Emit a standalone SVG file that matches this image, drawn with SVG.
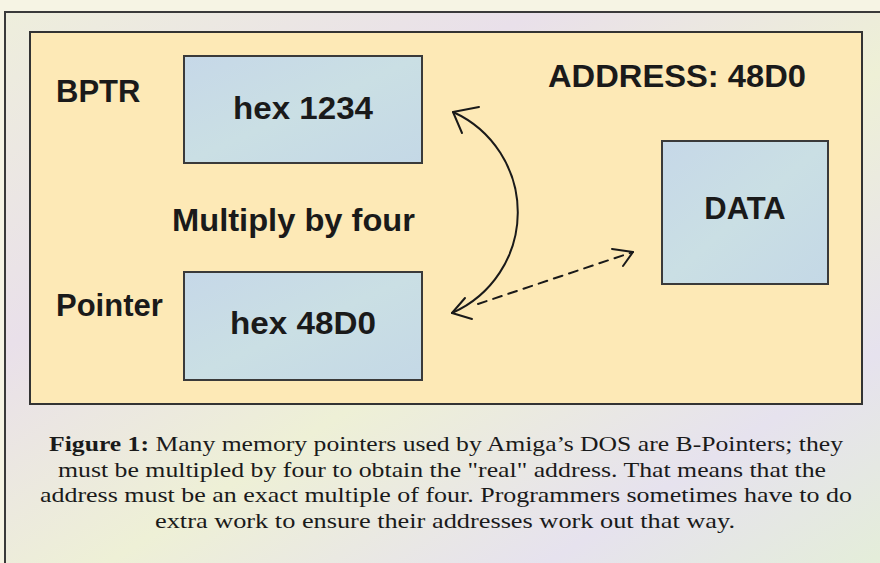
<svg xmlns="http://www.w3.org/2000/svg" width="880" height="563" viewBox="0 0 880 563">
<defs>
<linearGradient id="bg" x1="0" y1="0" x2="1" y2="1">
<stop offset="0" stop-color="#eeeedc"/>
<stop offset="0.3" stop-color="#e9e0ea"/>
<stop offset="0.55" stop-color="#eef0d6"/>
<stop offset="0.8" stop-color="#e6e2ee"/>
<stop offset="1" stop-color="#e4eed8"/>
</linearGradient>
<linearGradient id="boxg" x1="0" y1="0" x2="1" y2="1">
<stop offset="0" stop-color="#c6d8e8"/>
<stop offset="0.5" stop-color="#cadfe4"/>
<stop offset="1" stop-color="#c4d8e6"/>
</linearGradient>
<style>
.lbl{font-family:"Liberation Sans",Arial,sans-serif;font-weight:bold;font-size:31px;fill:#1a1a1a}
.box{fill:url(#boxg);stroke:#3a3a3a;stroke-width:2}
.cap{font-family:"Liberation Serif","Times New Roman",serif;font-size:22px;fill:#1a1a1a;text-anchor:middle}
.conn{fill:none;stroke:#1a1a1a;stroke-width:2;stroke-linecap:round;stroke-linejoin:round}
</style>
</defs>
<rect x="0" y="0" width="880" height="563" fill="#f6f4e4"/>
<rect x="5" y="12" width="880" height="560" fill="url(#bg)" stroke="#3a3a3a" stroke-width="2"/>
<rect x="30" y="32" width="832" height="372" fill="#fde9b6" stroke="#333" stroke-width="2"/>
<g id="bptr-label"><text class="lbl" x="56" y="102">BPTR</text></g>
<g id="address-label"><text class="lbl" x="548" y="87" textLength="258" lengthAdjust="spacingAndGlyphs">ADDRESS: 48D0</text></g>
<g id="multiply-label"><text class="lbl" x="172" y="231" textLength="243" lengthAdjust="spacingAndGlyphs">Multiply by four</text></g>
<g id="pointer-label"><text class="lbl" x="56" y="316">Pointer</text></g>
<g id="bptr-box"><rect class="box" x="184" y="56" width="238" height="107"/><text class="lbl" x="233" y="119" font-size="32" textLength="140" lengthAdjust="spacingAndGlyphs">hex 1234</text></g>
<g id="pointer-box"><rect class="box" x="184" y="272" width="238" height="108"/><text class="lbl" x="230" y="334" font-size="32" textLength="146" lengthAdjust="spacingAndGlyphs">hex 48D0</text></g>
<g id="data-box"><rect class="box" x="662" y="141" width="166" height="143"/><text class="lbl" x="745" y="219" text-anchor="middle">DATA</text></g>
<g id="connectors">
<path class="conn" d="M453 112 A110 110 0 0 1 452 313"/>
<path class="conn" d="M479 107 L453 112 L462 133"/>
<path class="conn" d="M465 298 L452 313 L472 319"/>
<path class="conn" d="M478 304 L633 252" stroke-dasharray="9 7"/>
<path class="conn" d="M612 249 L633 252 L623 266"/>
</g>
<g id="caption">
<text class="cap" x="446" y="451" textLength="794" lengthAdjust="spacingAndGlyphs"><tspan font-weight="bold">Figure 1:</tspan>  Many memory pointers used by Amiga’s DOS are B-Pointers; they</text>
<text class="cap" x="442" y="477" textLength="768" lengthAdjust="spacingAndGlyphs">must be multipled by four to obtain the "real" address. That means that the</text>
<text class="cap" x="446" y="502" textLength="812" lengthAdjust="spacingAndGlyphs">address must be an exact multiple of four. Programmers sometimes have to do</text>
<text class="cap" x="445" y="528" textLength="580" lengthAdjust="spacingAndGlyphs">extra work to ensure their addresses work out that way.</text>
</g>
</svg>
